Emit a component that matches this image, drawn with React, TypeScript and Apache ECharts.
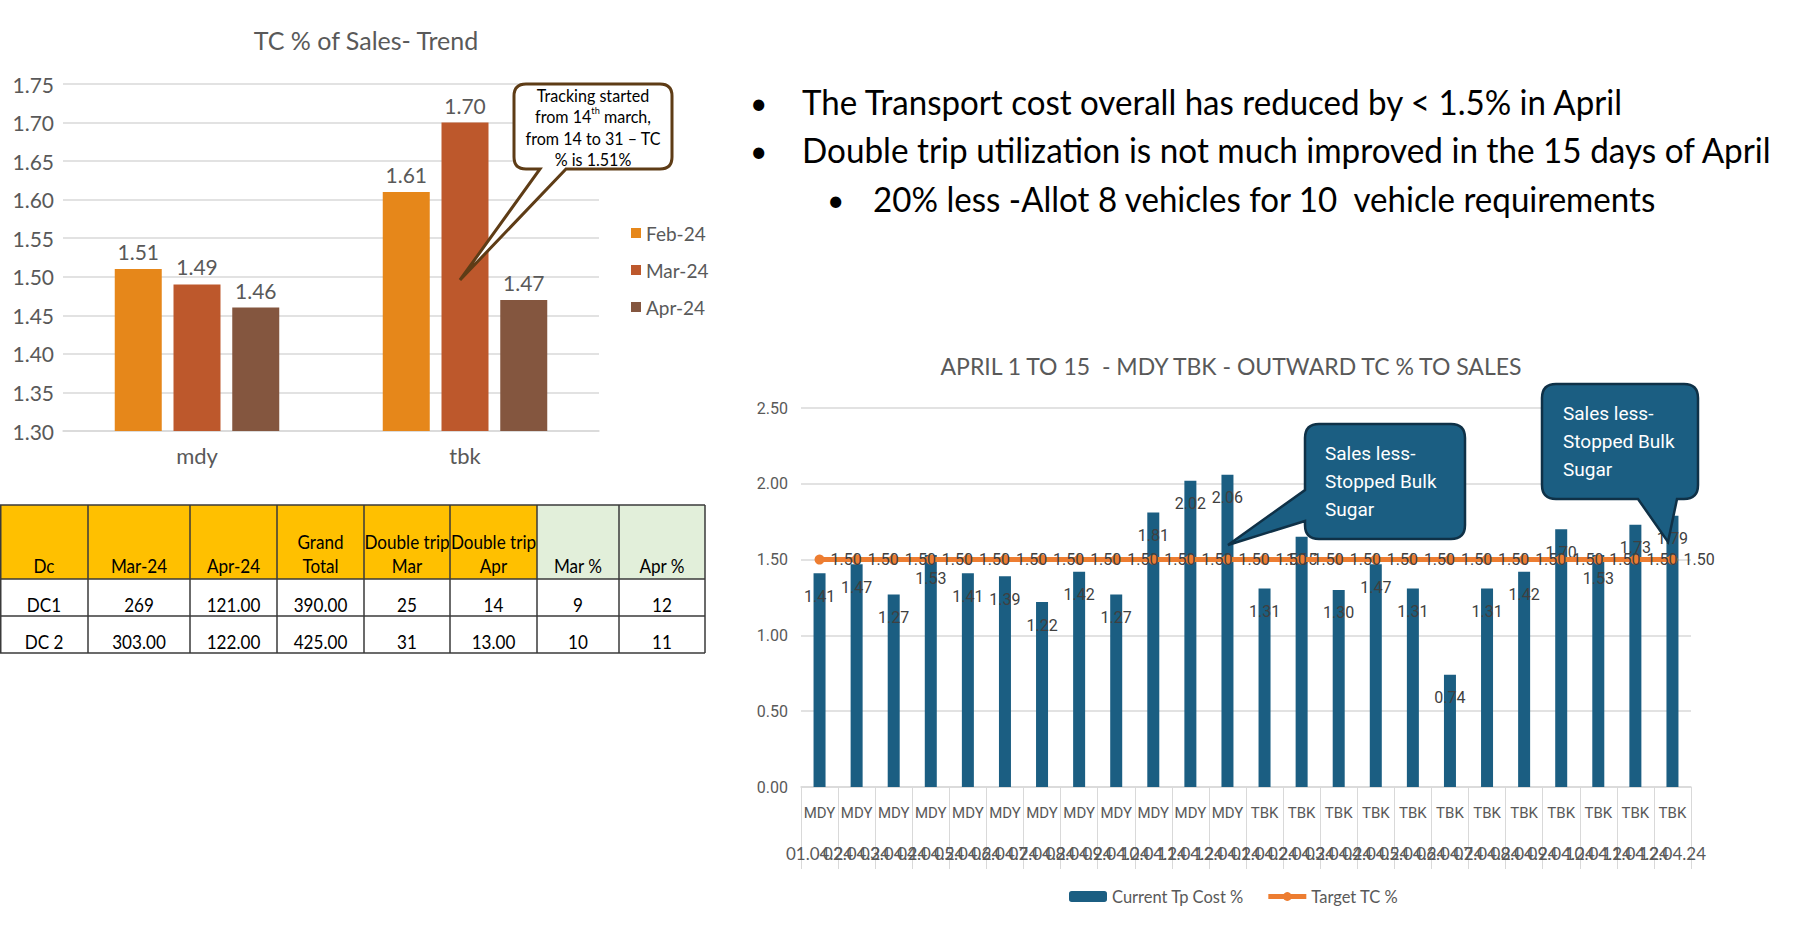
import React, { useEffect, useRef } from 'react';
import * as echarts from 'echarts';

const CAL = "Lato, 'Noto Sans', sans-serif";
const SANS = "Roboto, 'Noto Sans', sans-serif";

// ---------- Top-left chart: TC % of Sales- Trend ----------
const trendTitle = 'TC % of Sales- Trend';
const trendCategories = ['mdy', 'tbk'];
const trendSeriesNames = ['Feb-24', 'Mar-24', 'Apr-24'];
const trendFeb24 = [1.51, 1.61];
const trendMar24 = [1.49, 1.7];
const trendApr24 = [1.46, 1.47];
const trendColors = ['#E6871A', '#BD582C', '#84563F'];
const trendAxisMin = 1.3;
const trendAxisMax = 1.75;
const trendAxisStep = 0.05;
const trendNote = 'Tracking started\nfrom 14{sup|th} march,\nfrom 14 to 31 \u2013 TC\n% is 1.51%';

// ---------- Bottom-right chart: April daily ----------
const dailyTitle = 'APRIL 1 TO 15  - MDY TBK - OUTWARD TC % TO SALES';
const dailyGroups = [
  'MDY', 'MDY', 'MDY', 'MDY', 'MDY', 'MDY', 'MDY', 'MDY', 'MDY', 'MDY', 'MDY', 'MDY',
  'TBK', 'TBK', 'TBK', 'TBK', 'TBK', 'TBK', 'TBK', 'TBK', 'TBK', 'TBK', 'TBK', 'TBK',
];
const dailyDates = [
  '01.04.24', '02.04.24', '03.04.24', '04.04.24', '05.04.24', '06.04.24',
  '07.04.24', '08.04.24', '09.04.24', '10.04.24', '11.04.24', '12.04.24',
  '01.04.24', '02.04.24', '03.04.24', '04.04.24', '05.04.24', '06.04.24',
  '07.04.24', '08.04.24', '09.04.24', '10.04.24', '11.04.24', '12.04.24',
];
const currentTpCost = [
  1.41, 1.47, 1.27, 1.53, 1.41, 1.39, 1.22, 1.42, 1.27, 1.81, 2.02, 2.06,
  1.31, 1.65, 1.3, 1.47, 1.31, 0.74, 1.31, 1.42, 1.7, 1.53, 1.73, 1.79,
];
const targetTc = [
  1.5, 1.5, 1.5, 1.5, 1.5, 1.5, 1.5, 1.5, 1.5, 1.5, 1.5, 1.5,
  1.5, 1.5, 1.5, 1.5, 1.5, 1.5, 1.5, 1.5, 1.5, 1.5, 1.5, 1.5,
];
const dailySeriesNames = ['Current Tp Cost %', 'Target TC %'];
const dailyAxisMax = 2.5;
const dailyAxisStep = 0.5;
const dailyNote = 'Sales less-\nStopped Bulk\nSugar';

// ---------- Bullets ----------
const bulletLines = [
  'The Transport cost overall has reduced by < 1.5% in April',
  'Double trip utilization is not much improved in the 15 days of April',
];
const subBulletLines = ['20% less -Allot 8 vehicles for 10  vehicle requirements'];

// ---------- Table ----------
const tableHeaders = ['Dc', 'Mar-24', 'Apr-24', 'Grand\nTotal', 'Double trip\nMar', 'Double trip\nApr', 'Mar %', 'Apr %'];
const tableRows = [
  ['DC1', '269', '121.00', '390.00', '25', '14', '9', '12'],
  ['DC 2', '303.00', '122.00', '425.00', '31', '13.00', '10', '11'],
];

// ---------- Layout (positions only) ----------
const tableColX = [0, 88, 190, 277, 364, 450, 537, 619, 705];
const tableRowY = [505, 579, 616, 653];
const bulletWidths = [823, 971];
const subBulletWidths = [785];

echarts.graphic.registerShape(
  'calloutTrend',
  echarts.graphic.extendPath(
    'M 526 84 L 660 84 Q 672 84 672 96 L 672 157 Q 672 169 660 169 L 566 169 L 460 280 L 540 169 L 526 169 Q 514 169 514 157 L 514 96 Q 514 84 526 84 Z',
    {}
  )
);
echarts.graphic.registerShape(
  'calloutDaily1',
  echarts.graphic.extendPath(
    'M 1319 424 L 1451 424 Q 1465 424 1465 438 L 1465 525 Q 1465 539 1451 539 L 1319 539 Q 1305 539 1305 525 L 1305 521 L 1228 545 L 1305 490 L 1305 438 Q 1305 424 1319 424 Z',
    {}
  )
);
echarts.graphic.registerShape(
  'calloutDaily2',
  echarts.graphic.extendPath(
    'M 1556 384 L 1684 384 Q 1698 384 1698 398 L 1698 485 Q 1698 499 1684 499 L 1677 499 L 1668 542 L 1638 499 L 1556 499 Q 1542 499 1542 485 L 1542 398 Q 1542 384 1556 384 Z',
    {}
  )
);

function measure(text: string, size: number, family: string): number {
  const c = document.createElement('canvas').getContext('2d');
  if (!c) return text.length * size * 0.5;
  c.font = `${size}px ${family}`;
  return c.measureText(text).width;
}

function buildGraphics(): any[] {
  const els: any[] = [];
  // bullets
  bulletLines.forEach((t, i) => {
    const y = 102 + i * 48;
    const sx = Math.min(1, bulletWidths[i] / measure(t, 34, CAL));
    els.push({ type: 'text', x: 750, y, style: { text: '\u2022', fontSize: 30, fontFamily: CAL, fill: '#000', verticalAlign: 'middle' } });
    els.push({ type: 'text', x: 802, y, scaleX: sx, style: { text: t, fontSize: 34, fontFamily: CAL, fill: '#000', verticalAlign: 'middle' } });
  });
  subBulletLines.forEach((t, i) => {
    const y = 199 + i * 48;
    const sx = Math.min(1, subBulletWidths[i] / measure(t, 34, CAL));
    els.push({ type: 'text', x: 827, y, style: { text: '\u2022', fontSize: 30, fontFamily: CAL, fill: '#000', verticalAlign: 'middle' } });
    els.push({ type: 'text', x: 873, y, scaleX: sx, style: { text: t, fontSize: 34, fontFamily: CAL, fill: '#000', verticalAlign: 'middle' } });
  });

  // table
  tableHeaders.forEach((h, j) => {
    const x0 = tableColX[j];
    const x1 = tableColX[j + 1];
    els.push({
      type: 'rect',
      shape: { x: x0, y: tableRowY[0], width: x1 - x0, height: tableRowY[1] - tableRowY[0] },
      style: { fill: j < 6 ? '#FFC000' : '#E2EFDA' },
    });
    els.push({
      type: 'text',
      x: (x0 + x1) / 2,
      y: tableRowY[1] - 1,
      scaleX: 0.9,
      style: { text: h, fontSize: 19, fontFamily: CAL, fill: '#000', align: 'center', verticalAlign: 'bottom', lineHeight: 24 },
    });
  });
  tableRows.forEach((row, r) => {
    row.forEach((cell, j) => {
      els.push({
        type: 'text',
        x: (tableColX[j] + tableColX[j + 1]) / 2,
        y: tableRowY[r + 2] - 11,
        scaleX: 0.9,
        style: { text: cell, fontSize: 19, fontFamily: CAL, fill: '#000', align: 'center', verticalAlign: 'middle' },
      });
    });
  });
  tableRowY.forEach((y) => {
    els.push({ type: 'line', shape: { x1: 0, y1: y, x2: tableColX[tableColX.length - 1], y2: y }, style: { stroke: '#3A3A3A', lineWidth: 1.5 } });
  });
  tableColX.forEach((x) => {
    const xx = x === 0 ? 0.75 : x;
    els.push({ type: 'line', shape: { x1: xx, y1: tableRowY[0], x2: xx, y2: tableRowY[tableRowY.length - 1] }, style: { stroke: '#3A3A3A', lineWidth: 1.5 } });
  });

  // callouts
  els.push({ type: 'calloutTrend', x: 0, y: 0, z: 100, style: { fill: '#FFFFFF', stroke: '#5E3C16', lineWidth: 3 } });
  els.push({
    type: 'text', x: 593, y: 127, z: 101, scaleX: 0.92,
    style: {
      text: trendNote, fontSize: 17.5, fontFamily: CAL, fill: '#000', align: 'center', verticalAlign: 'middle', lineHeight: 21.5,
      rich: { sup: { fontSize: 10, fontFamily: CAL, fill: '#000', lineHeight: 12, verticalAlign: 'top' } },
    },
  });
  els.push({ type: 'calloutDaily1', x: 0, y: 0, z: 100, style: { fill: '#1B5E82', stroke: '#0F3147', lineWidth: 2.5 } });
  els.push({ type: 'text', x: 1325, y: 481, z: 101, style: { text: dailyNote, fontSize: 19, fontFamily: SANS, fill: '#FFFFFF', align: 'left', verticalAlign: 'middle', lineHeight: 28 } });
  els.push({ type: 'calloutDaily2', x: 0, y: 0, z: 100, style: { fill: '#1B5E82', stroke: '#0F3147', lineWidth: 2.5 } });
  els.push({ type: 'text', x: 1563, y: 441, z: 101, style: { text: dailyNote, fontSize: 19, fontFamily: SANS, fill: '#FFFFFF', align: 'left', verticalAlign: 'middle', lineHeight: 28 } });
  return els;
}

const fmt2 = (p: any) => Number(p.value).toFixed(2);

function buildOption(): any {
  const trendData = [trendFeb24, trendMar24, trendApr24];
  return {
    animation: false,
    backgroundColor: '#FFFFFF',
    title: [
      { text: trendTitle, left: 361, top: 22, textAlign: 'center', textStyle: { fontSize: 25, fontWeight: 'normal', color: '#595959', fontFamily: CAL } },
      { text: dailyTitle, left: 1226, top: 349, textAlign: 'center', textStyle: { fontSize: 23, fontWeight: 'normal', color: '#595959', fontFamily: CAL } },
    ],
    legend: [
      {
        data: trendSeriesNames,
        orient: 'vertical',
        left: 631,
        top: 223,
        padding: 0,
        itemWidth: 10,
        itemHeight: 10,
        itemGap: 17,
        icon: 'rect',
        textStyle: { fontSize: 19, color: '#595959', fontFamily: CAL, lineHeight: 20 },
      },
      {
        data: dailySeriesNames,
        left: 1069,
        top: 888,
        padding: 0,
        itemWidth: 38,
        itemHeight: 11,
        itemGap: 22,
        lineStyle: { width: 5 },
        textStyle: { fontSize: 16.5, color: '#595959', fontFamily: CAL },
      },
    ],
    grid: [
      { left: 63, top: 84, width: 536, height: 347, outerBoundsMode: 'none' },
      { left: 801, top: 408, width: 890, height: 379, outerBoundsMode: 'none' },
    ],
    xAxis: [
      {
        type: 'category',
        gridIndex: 0,
        data: trendCategories,
        axisLine: { lineStyle: { color: '#D9D9D9', width: 1.5 } },
        axisTick: { show: false },
        axisLabel: { fontSize: 22, color: '#595959', fontFamily: CAL, margin: 13 },
      },
      {
        type: 'category',
        gridIndex: 1,
        position: 'bottom',
        data: dailyGroups,
        axisLine: { lineStyle: { color: '#D9D9D9', width: 1.5 } },
        axisTick: { show: true, length: 82, interval: 0, alignWithLabel: false, lineStyle: { color: '#D9D9D9', width: 1 } },
        axisLabel: { interval: 0, fontSize: 15, color: '#595959', fontFamily: SANS, margin: 18 },
      },
      {
        type: 'category',
        gridIndex: 1,
        position: 'bottom',
        offset: 0,
        data: dailyDates,
        axisLine: { show: false },
        axisTick: { show: false },
        splitLine: { show: false },
        axisLabel: { interval: 0, fontSize: 17, color: '#595959', fontFamily: CAL, margin: 58 },
      },
    ],
    yAxis: [
      {
        type: 'value',
        gridIndex: 0,
        min: trendAxisMin,
        max: trendAxisMax,
        interval: trendAxisStep,
        axisLine: { show: false },
        axisTick: { show: false },
        splitLine: { lineStyle: { color: '#D9D9D9', width: 1.5 } },
        axisLabel: { fontSize: 21, color: '#595959', fontFamily: CAL, margin: 9, formatter: (v: number) => v.toFixed(2) },
      },
      {
        type: 'value',
        gridIndex: 1,
        min: 0,
        max: dailyAxisMax,
        interval: dailyAxisStep,
        axisLine: { show: false },
        axisTick: { show: false },
        splitLine: { lineStyle: { color: '#D9D9D9', width: 1.5 } },
        axisLabel: { fontSize: 16, color: '#595959', fontFamily: SANS, margin: 13, formatter: (v: number) => v.toFixed(2) },
      },
    ],
    series: [
      ...trendSeriesNames.map((name, i) => ({
        name,
        type: 'bar',
        xAxisIndex: 0,
        yAxisIndex: 0,
        data: trendData[i],
        barWidth: 47,
        barGap: '25%',
        itemStyle: { color: trendColors[i] },
        label: { show: true, position: 'top', distance: 7, fontSize: 21, color: '#595959', fontFamily: CAL, formatter: fmt2 },
      })),
      {
        name: dailySeriesNames[0],
        type: 'bar',
        xAxisIndex: 1,
        yAxisIndex: 1,
        data: currentTpCost,
        barWidth: 12,
        itemStyle: { color: '#1B5E82' },
        label: { show: true, position: 'insideTop', distance: 15, fontSize: 16, color: '#404040', fontFamily: SANS, formatter: fmt2 },
      },
      {
        name: dailySeriesNames[1],
        type: 'line',
        xAxisIndex: 1,
        yAxisIndex: 1,
        data: targetTc,
        symbol: 'circle',
        symbolSize: 10,
        lineStyle: { color: '#ED7D31', width: 5 },
        itemStyle: { color: '#ED7D31' },
        label: { show: true, position: 'right', distance: 6, fontSize: 16, color: '#404040', fontFamily: SANS, formatter: fmt2 },
      },
    ],
    graphic: { elements: buildGraphics() },
  };
}

export default function App() {
  const ref = useRef<HTMLDivElement>(null);
  useEffect(() => {
    document.body.style.margin = '0';
    if (!ref.current) return;
    const chart = echarts.init(ref.current, undefined, { renderer: 'svg' });
    chart.setOption(buildOption());
    return () => chart.dispose();
  }, []);
  return <div ref={ref} style={{ width: 1797, height: 928 }} />;
}
